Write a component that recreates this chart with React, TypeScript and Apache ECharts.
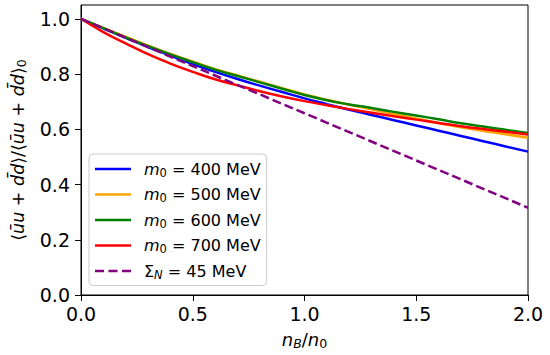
import React, { useEffect, useRef } from "react";
import * as echarts from "echarts";

const xs = [0, 0.1, 0.2, 0.3, 0.4, 0.5, 0.6, 0.7, 0.8, 0.9, 1.0, 1.1, 1.2, 1.3, 1.4, 1.5, 1.6, 1.7, 1.8, 1.9, 2.0];
const m400 = [1.0, 0.965, 0.931, 0.898, 0.867, 0.836, 0.808, 0.782, 0.758, 0.735, 0.712, 0.691, 0.671, 0.652, 0.633, 0.614, 0.595, 0.576, 0.557, 0.538, 0.519];
const m500 = [1.0, 0.967, 0.935, 0.903, 0.873, 0.845, 0.818, 0.795, 0.772, 0.749, 0.726, 0.707, 0.689, 0.672, 0.655, 0.639, 0.623, 0.607, 0.594, 0.582, 0.569];
const m600 = [1.0, 0.966, 0.933, 0.901, 0.871, 0.843, 0.816, 0.793, 0.770, 0.747, 0.724, 0.705, 0.690, 0.677, 0.663, 0.650, 0.636, 0.622, 0.610, 0.598, 0.587];
const m700 = [1.0, 0.952, 0.911, 0.872, 0.838, 0.808, 0.781, 0.759, 0.738, 0.719, 0.702, 0.687, 0.673, 0.660, 0.647, 0.635, 0.623, 0.611, 0.601, 0.591, 0.581];
const sigmaX = [0, 0.5, 1.0, 1.5, 2.0];
const sigma45 = [1.0, 0.829, 0.658, 0.487, 0.316];

const xTicks = [0, 0.5, 1.0, 1.5, 2.0];
const yTicks = [0, 0.2, 0.4, 0.6, 0.8, 1.0];

const seriesNames = ["m400", "m500", "m600", "m700", "sigma"];
const legendLabels: Record<string, string> = {
  m400: "{i|m}{s|0}{t| = 400 MeV}",
  m500: "{i|m}{s|0}{t| = 500 MeV}",
  m600: "{i|m}{s|0}{t| = 600 MeV}",
  m700: "{i|m}{s|0}{t| = 700 MeV}",
  sigma: "{g|Σ}{si|N}{t| = 45 MeV}",
};

const FONT = "DejaVu Sans";
const SOLID_ICON = "path://M0,0h36v2.5h-36z";
const DASH_ICON = "path://M0,0h9v2.5h-9zM13.5,0h9v2.5h-9zM27,0h9v2.5h-9z";

export default function App() {
  const ref = useRef<HTMLDivElement>(null);
  useEffect(() => {
    if (!ref.current) return;
    const chart = echarts.init(ref.current, undefined, { renderer: "svg" });
    const pair = (a: number[], b: number[]) => a.map((x, i) => [x, b[i]]);
    const mk = (name: string, data: number[][], color: string, dashed = false) => ({
      name,
      type: "line",
      data,
      smooth: true,
      showSymbol: false,
      symbol: "none",
      lineStyle: { color, width: 2.5, type: dashed ? [9, 4] : "solid" },
      itemStyle: { color },
    });
    const richLegend = {
      i: { fontFamily: FONT, fontStyle: "italic", fontSize: 16, color: "#000", padding: [0, 0, 0, 8] },
      g: { fontFamily: FONT, fontSize: 16, color: "#000", padding: [0, 0, 0, 8] },
      s: { fontFamily: FONT, fontSize: 11.5, color: "#000", padding: [7, 0, 0, 0] },
      si: { fontFamily: FONT, fontStyle: "italic", fontSize: 11.5, color: "#000", padding: [7, 0, 0, 0] },
      t: { fontFamily: FONT, fontSize: 16, color: "#000" },
    };
    chart.setOption({
      animation: false,
      textStyle: { fontFamily: FONT },
      grid: {
        left: 81,
        right: 22,
        top: 5,
        bottom: 59,
        show: true,
        borderColor: "#000",
        borderWidth: 1,
        backgroundColor: "transparent",
      },
      legend: {
        orient: "vertical",
        left: 89,
        top: 154,
        data: seriesNames.map((n) => ({ name: n, icon: n === "sigma" ? DASH_ICON : SOLID_ICON })),
        itemWidth: 36,
        itemHeight: 2.5,
        itemGap: 8,
        padding: [7, 6, 5, 6],
        backgroundColor: "rgba(255,255,255,0.8)",
        borderColor: "#cccccc",
        borderWidth: 1,
        borderRadius: 4,
        formatter: (n: string) => legendLabels[n],
        textStyle: { fontFamily: FONT, fontSize: 16, color: "#000", rich: richLegend },
      },
      xAxis: {
        type: "value",
        min: 0,
        max: 2,
        interval: 0.5,
        name: "{i|n}{si|B}{t|/}{i|n}{s|0}",
        nameLocation: "middle",
        nameGap: 34,
        nameTextStyle: {
          rich: {
            i: { fontFamily: FONT, fontStyle: "italic", fontSize: 18, color: "#000" },
            t: { fontFamily: FONT, fontSize: 18, color: "#000" },
            s: { fontFamily: FONT, fontSize: 12.5, color: "#000", padding: [8, 0, 0, 0] },
            si: { fontFamily: FONT, fontStyle: "italic", fontSize: 12.5, color: "#000", padding: [8, 0, 0, 0] },
          },
        },
        axisLine: { show: true, lineStyle: { color: "#000", width: 1 } },
        axisTick: { show: true, length: 6, lineStyle: { color: "#000" }, customValues: xTicks },
        axisLabel: {
          customValues: xTicks,
          formatter: (v: number) => v.toFixed(1),
          fontFamily: FONT,
          fontSize: 19,
          color: "#000",
          margin: 9,
        },
        splitLine: { show: false },
      },
      yAxis: {
        type: "value",
        min: 0,
        max: 1.05,
        interval: 0.2,
        name: "{t|⟨}{i|ūu}{t| + }{i|d̄d}{t|⟩/⟨}{i|ūu}{t| + }{i|d̄d}{t|⟩}{s|0}",
        nameLocation: "middle",
        nameRotate: 90,
        nameGap: 53,
        nameTextStyle: {
          rich: {
            i: { fontFamily: FONT, fontStyle: "italic", fontSize: 17.5, color: "#000" },
            t: { fontFamily: FONT, fontSize: 17.5, color: "#000" },
            s: { fontFamily: FONT, fontSize: 12.5, color: "#000", padding: [8, 0, 0, 0] },
          },
        },
        axisLine: { show: true, lineStyle: { color: "#000", width: 1 } },
        axisTick: { show: true, length: 6, lineStyle: { color: "#000" }, customValues: yTicks },
        axisLabel: {
          customValues: yTicks,
          formatter: (v: number) => v.toFixed(1),
          fontFamily: FONT,
          fontSize: 19,
          color: "#000",
          margin: 11,
        },
        splitLine: { show: false },
      },
      series: [
        mk("m400", pair(xs, m400), "#0000ff"),
        mk("m500", pair(xs, m500), "#ffa500"),
        mk("m600", pair(xs, m600), "#008000"),
        mk("m700", pair(xs, m700), "#ff0000"),
        { ...mk("sigma", pair(sigmaX, sigma45), "#800080", true), smooth: false },
      ],
    });
    return () => chart.dispose();
  }, []);
  return <div ref={ref} style={{ width: 550, height: 355, position: "absolute", left: 0, top: 0 }} />;
}
